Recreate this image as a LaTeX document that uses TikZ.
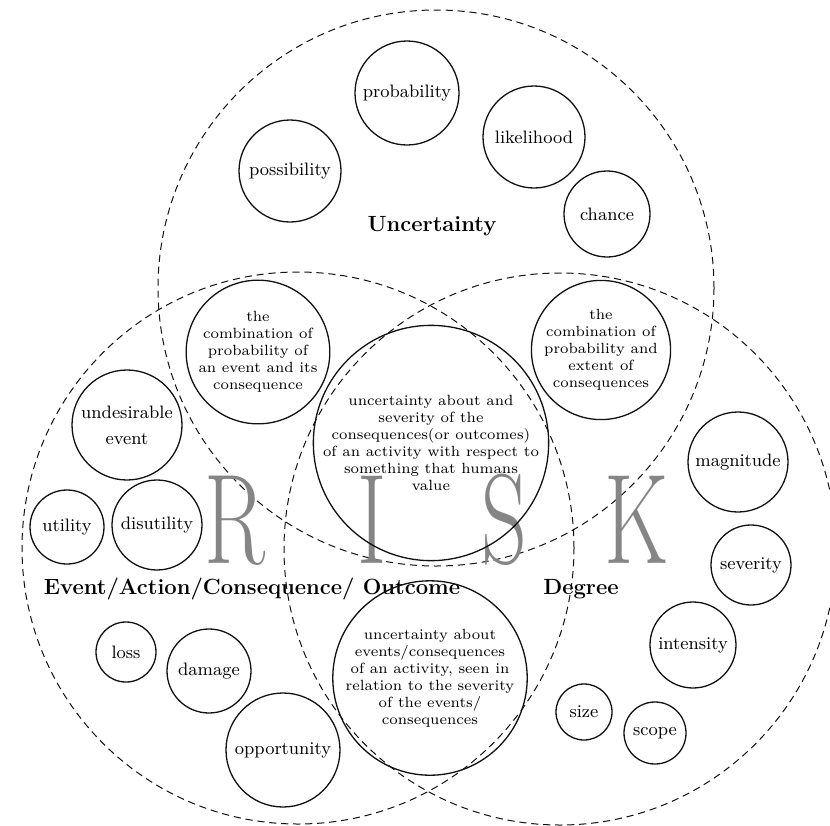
\documentclass[tikz,border=0pt]{standalone}
\usepackage{xcolor}
\usepackage{tikz}
\definecolor{riskgray}{HTML}{858585}
\definecolor{inkblack}{HTML}{111111}

\tikzset{
  bigset/.style={draw=inkblack, circle, inner sep=0pt, line width=0.5pt, dash pattern=on 3.6pt off 2.4pt},
  term/.style={draw=inkblack, circle, inner sep=0pt, line width=0.65pt, align=center, font=\fontsize{9}{13}\selectfont},
  defn/.style={term, font=\fontsize{7.4}{8.5}\selectfont},
  setname/.style={anchor=base, inner sep=0pt, font=\bfseries\fontsize{11}{13}\selectfont},
  riskletter/.style={anchor=base, inner sep=0pt, text=riskgray, font=\fontsize{64}{64}\selectfont},
}

\begin{document}
\begin{tikzpicture}[x=0.5pt, y=-0.5pt]
  \useasboundingbox (0,0) rectangle (830,825);
  % the three sets
  \node[bigset, minimum size=278pt] (uncset) at (436,288) {};
  \node[bigset, minimum size=276pt] (evset) at (298,548) {};
  \node[bigset, minimum size=276pt] (degset) at (560,549) {};
  % big grey letters
  \foreach \ltr/\x in {R/235, I/372, S/504, K/637}
    \node[riskletter] (risk\ltr) at (\x,563) {\scalebox{0.7}[1]{\ltr}};
  % set names
  \node[setname] (unclbl) at (432,231) {Uncertainty};
  \node[setname] (evlbl) at (252,594) {Event/Action/Consequence/ Outcome};
  \node[setname] (deglbl) at (581,594) {Degree};
  % single terms: name/x/y/diameter/text
  \foreach \nm/\x/\y/\d/\txt in {
      prob/407/93/52/probability,
      poss/290/171/51/possibility,
      like/534/137/51/likelihood,
      chance/607/214/43/chance,
      undes/127/425/55/{undesirable\\event},
      util/67/527/37/utility,
      disutil/157/525/45/disutility,
      loss/126/652/30/loss,
      damage/209/671/42/damage,
      opport/283/750/57/opportunity,
      magn/738/462/50/magnitude,
      sev/751/565/40/severity,
      inten/693/645/43/intensity,
      size/584/712/28/size,
      scope/655/733/31/scope} {
    \node[term, minimum size=\d pt] (\nm) at (\x,\y) {\txt};
  }
  % definitions in the overlaps
  \node[defn, minimum size=57pt] (defevent) at (258,352) {the\\combination of\\probability of\\an event and its\\consequence};
  \node[defn, minimum size=57pt] (defextent) at (601,350) {the\\combination of\\probability and\\extent of\\consequences};
  \node[defn, minimum size=100pt] (defcentre) at (431,443) {uncertainty about and\\severity of the\\consequences(or outcomes)\\of an activity with respect to\\something that humans\\value};
  \node[defn, minimum size=79pt] (defsev) at (430,678) {uncertainty about\\events/consequences\\of an activity, seen in\\relation to the severity\\of the events/\\consequences};
\end{tikzpicture}
\end{document}
